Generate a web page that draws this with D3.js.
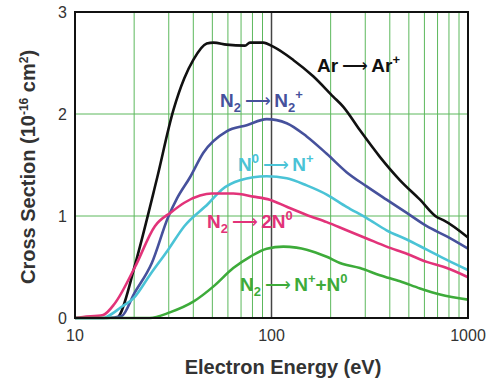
<!DOCTYPE html>
<html>
<head>
<meta charset="utf-8">
<script src="https://cdn.jsdelivr.net/npm/d3@7"></script>
<style>
	body { margin: 0; background: #fff; }
	svg { font-family: "Liberation Sans", Arial, sans-serif; }
	.grid line { stroke: #5cb85c; stroke-width: 1; }
	.tick-label { font-size: 16px; fill: #333; }
	.axis-title { font-weight: bold; fill: #333; }
	.curve { fill: none; stroke-width: 2.6; stroke-linejoin: round; }
	.label { font-size: 19px; font-weight: bold; }
</style>
</head>
<body>
<svg id="plot" width="496" height="379"></svg>
<script>

function whenDocumentLoaded(action) {
	if (document.readyState === "loading") {
		document.addEventListener("DOMContentLoaded", action);
	} else {
		action();
	}
}

// electron energy (eV) and cross section (1e-16 cm^2) per process
const AR_E     = [16.5, 17, 20.2, 26, 31.7, 36, 40, 46.8, 50.7, 59.1, 73.3, 77.7, 90.8, 102, 129, 163, 206, 232, 282, 356, 451, 570, 693, 749, 1000];
const AR_SIGMA = [0, 0.04, 0.52, 1.35, 2.04, 2.35, 2.53, 2.69, 2.70, 2.68, 2.67, 2.70, 2.70, 2.66, 2.53, 2.37, 2.17, 2.07, 1.84, 1.58, 1.35, 1.16, 0.99, 0.96, 0.79];

const N2P_E     = [10, 14.5, 17.3, 20, 24.6, 29.8, 33, 38.5, 45, 59.1, 74.8, 94.5, 119.5, 151, 191, 241, 305, 385, 488, 617, 780, 1000];
const N2P_SIGMA = [0, 0, 0.02, 0.24, 0.54, 0.99, 1.17, 1.38, 1.62, 1.83, 1.89, 1.95, 1.91, 1.78, 1.61, 1.43, 1.29, 1.16, 1.03, 0.90, 0.80, 0.68];

const NP_E     = [10, 14, 14.8, 17, 20.2, 24, 29.8, 36, 47.6, 56, 69.1, 94.5, 119.5, 151, 191, 241, 305, 385, 488, 617, 780, 1000];
const NP_SIGMA = [0, 0, 0.02, 0.10, 0.21, 0.42, 0.67, 0.90, 1.12, 1.26, 1.35, 1.39, 1.37, 1.30, 1.21, 1.09, 0.98, 0.86, 0.77, 0.67, 0.57, 0.47];

const N2D_E     = [10, 11, 13.9, 15.9, 20.2, 25.5, 31, 36, 43.3, 49.6, 63.9, 80.8, 98, 119.5, 151, 191, 241, 305, 385, 488, 617, 780, 1000];
const N2D_SIGMA = [0, 0.01, 0.03, 0.14, 0.50, 0.90, 1.04, 1.13, 1.20, 1.22, 1.22, 1.19, 1.16, 1.09, 1.01, 0.94, 0.86, 0.78, 0.70, 0.63, 0.55, 0.49, 0.40];

const NN_E     = [10, 24, 30.4, 40, 50.7, 63.9, 77.7, 94.5, 115, 134, 151, 191, 223, 282, 356, 451, 570, 721, 1000];
const NN_SIGMA = [0, 0, 0.055, 0.16, 0.31, 0.49, 0.60, 0.68, 0.70, 0.69, 0.67, 0.60, 0.54, 0.49, 0.42, 0.36, 0.29, 0.23, 0.18];

const X_TICKS = [10, 100, 1000];
const Y_TICKS = [0, 1, 2, 3];
const X_GRID = [20, 30, 40, 50, 60, 70, 80, 90, 200, 300, 400, 500, 600, 700, 800, 900];
const Y_GRID = [1, 2];

const SERIES = [
	{ e: AR_E,  s: AR_SIGMA,  color: "#111111" },
	{ e: N2P_E, s: N2P_SIGMA, color: "#46519c" },
	{ e: NP_E,  s: NP_SIGMA,  color: "#4ac3d6" },
	{ e: N2D_E, s: N2D_SIGMA, color: "#e23379" },
	{ e: NN_E,  s: NN_SIGMA,  color: "#3dab3a" },
];

// label parts: [text, kind] where kind is "", "sub", "sup" or "arrow"
const ARROW = "\u27F6";
const LABELS = [
	{ parts: [["Ar", ""], [ARROW, "arrow"], ["Ar", ""], ["+", "sup"]], x: 317, y: 72, color: "#111111" },
	{ parts: [["N", ""], ["2", "sub"], [ARROW, "arrow"], ["N", ""], ["2", "sub"], ["+", "sup"]], x: 220, y: 107, color: "#46519c" },
	{ parts: [["N", ""], ["0", "sup"], [ARROW, "arrow"], ["N", ""], ["+", "sup"]], x: 238, y: 171, color: "#4ac3d6" },
	{ parts: [["N", ""], ["2", "sub"], [ARROW, "arrow"], ["2N", ""], ["0", "sup"]], x: 207, y: 228, color: "#e23379" },
	{ parts: [["N", ""], ["2", "sub"], [ARROW, "arrow"], ["N", ""], ["+", "sup"], ["+N", ""], ["0", "sup"]], x: 240, y: 291, color: "#3dab3a" },
];

const MARGIN = { top: 12, right: 28, bottom: 61, left: 75 };

class CrossSectionPlot {
	constructor(elementId) {
		this.elementId = elementId;
		this.draw();
	}
	draw() {
		var svg = d3.select(`#${this.elementId}`);
		var width = +svg.attr("width") - MARGIN.left - MARGIN.right;
		var height = +svg.attr("height") - MARGIN.top - MARGIN.bottom;
		var g = svg.append("g").attr("transform", `translate(${MARGIN.left}, ${MARGIN.top})`);

		var x = d3.scaleLog().domain([10, 1000]).range([0, width]);
		var y = d3.scaleLinear().domain([0, 3]).range([height, 0]);

		// green grid
		var grid = g.append("g").attr("class", "grid");
		grid.selectAll(".vx").data(X_GRID).enter().append("line")
			.attr("x1", d => x(d)).attr("x2", d => x(d))
			.attr("y1", 0).attr("y2", height);
		grid.selectAll(".hy").data(Y_GRID).enter().append("line")
			.attr("x1", 0).attr("x2", width)
			.attr("y1", d => y(d)).attr("y2", d => y(d));

		// dark line at 100 eV
		g.append("line")
			.attr("x1", x(100)).attr("x2", x(100))
			.attr("y1", 0).attr("y2", height)
			.attr("stroke", "#444").attr("stroke-width", 1.5);

		var line = d3.line()
			.x(d => x(d[0]))
			.y(d => y(d[1]))
			.curve(d3.curveMonotoneX);

		SERIES.forEach(sr => {
			var pts = sr.e.map((e, i) => [e, sr.s[i]]);
			g.append("path")
				.attr("class", "curve")
				.attr("stroke", sr.color)
				.attr("d", line(pts));
		});

		// frame
		g.append("rect")
			.attr("width", width).attr("height", height)
			.attr("fill", "none").attr("stroke", "#111").attr("stroke-width", 2);

		// tick labels
		g.selectAll(".xt").data(X_TICKS).enter().append("text")
			.attr("class", "tick-label")
			.attr("x", d => x(d)).attr("y", height + 23)
			.attr("text-anchor", "middle")
			.text(d => d);
		g.selectAll(".yt").data(Y_TICKS).enter().append("text")
			.attr("class", "tick-label")
			.attr("x", -8).attr("y", d => y(d) + 6)
			.attr("text-anchor", "end")
			.text(d => d);

		// axis titles
		g.append("text")
			.attr("class", "axis-title")
			.attr("font-size", 20)
			.attr("x", 208).attr("y", height + 56)
			.attr("text-anchor", "middle")
			.text("Electron Energy (eV)");

		var yt = g.append("text")
			.attr("class", "axis-title")
			.attr("font-size", 20)
			.attr("transform", `translate(-40, 155) rotate(-90)`)
			.attr("text-anchor", "middle");
		yt.append("tspan").text("Cross Section (10");
		yt.append("tspan").attr("dy", -7).attr("font-size", 12).text("-16");
		yt.append("tspan").attr("dy", 7).text(" cm");
		yt.append("tspan").attr("dy", -7).attr("font-size", 12).text("2");
		yt.append("tspan").attr("dy", 7).text(")");

		// curve labels
		LABELS.forEach(lb => {
			var t = svg.append("text")
				.attr("class", "label")
				.attr("x", lb.x).attr("y", lb.y)
				.attr("fill", lb.color);
			var shift = 0;
			lb.parts.forEach(p => {
				var ts = t.append("tspan").text(p[1] === "arrow" ? "\u2009" + p[0] + "\u2009" : p[0]);
				var target = p[1] === "sub" ? 5 : p[1] === "sup" ? -8 : 0;
				if (target !== shift) ts.attr("dy", target - shift);
				shift = target;
				if (p[1] === "sub" || p[1] === "sup") ts.attr("font-size", 13);
				if (p[1] === "arrow") ts.attr("font-weight", 200).attr("font-family", "DejaVu Sans").attr("font-size", 18);
			});
		});
	}
}

whenDocumentLoaded(() => {
	const plot = new CrossSectionPlot("plot");
});
</script>
</body>
</html>
